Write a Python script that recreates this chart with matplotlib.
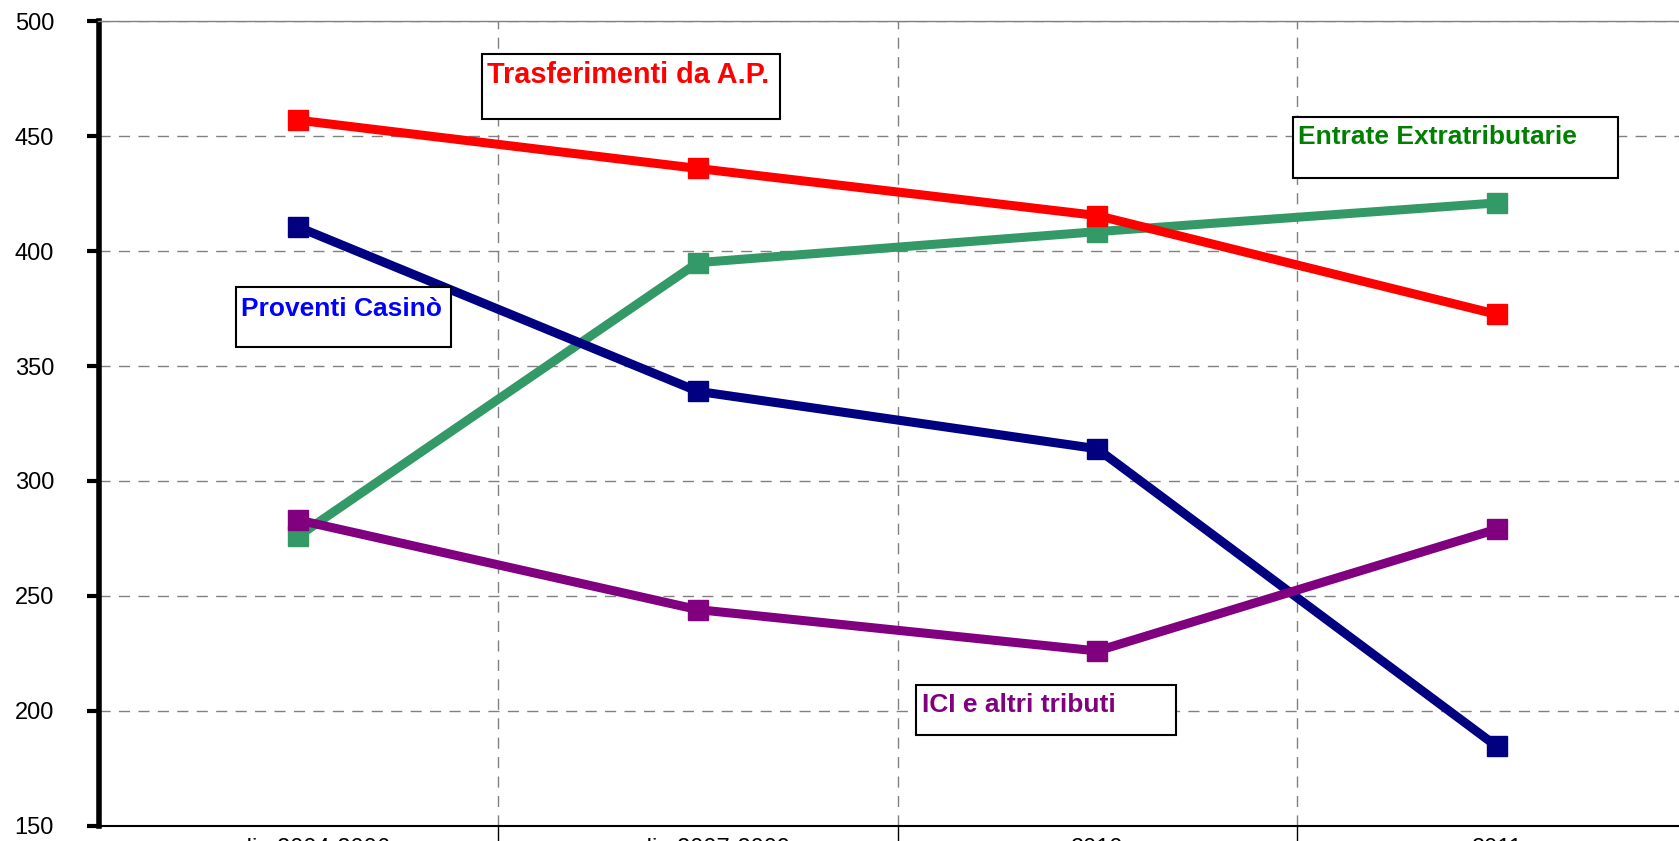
import matplotlib
matplotlib.use("Agg")
import matplotlib.pyplot as plt
from matplotlib.patches import Rectangle

plt.rcParams['font.family'] = ['Liberation Sans', 'DejaVu Sans']

categories = ["media 2004-2006", "media 2007-2009", "2010", "2011"]
trasferimenti = [457, 436, 415.5, 372.5]
extratributarie = [276, 395, 408.5, 421]
casino = [410.5, 339, 314, 184.5]
ici = [283, 244, 226, 279]

W, H = 1679, 841
fig = plt.figure(figsize=(W / 100, H / 100), dpi=100)
ax = fig.add_axes([98.5 / W, 15.4 / H, 1598 / W, 804.2 / H])

x = range(len(categories))
lw, ms = 6.5, 14
ax.plot(x, trasferimenti, color='#FF0000', lw=lw, marker='s', ms=ms, zorder=4)
ax.plot(x, extratributarie, color='#339966', lw=lw, marker='s', ms=ms, zorder=3)
ax.plot(x, casino, color='#000080', lw=lw, marker='s', ms=ms, zorder=3)
ax.plot(x, ici, color='#800080', lw=lw, marker='s', ms=ms, zorder=3)

ax.set_xlim(-0.5, 3.5)
ax.set_ylim(150, 500)
ax.set_yticks(range(150, 501, 50))
ax.tick_params(axis='y', labelsize=17, length=9, width=3, pad=23, direction='out')

# category boundaries carry ticks and grid, labels sit at the centres
ax.set_xticks([0.5, 1.5, 2.5])
ax.set_xticklabels([])
ax.set_xticks(list(x), minor=True)
ax.set_xticklabels(categories, minor=True)
ax.tick_params(axis='x', which='major', length=12, width=1, direction='out')
ax.tick_params(axis='x', which='minor', length=0, labelsize=17, pad=9)

ax.grid(True, which='major', color='#808080', lw=1, linestyle=(0, (8, 6)))
ax.set_axisbelow(True)

ax.spines['left'].set_linewidth(4)
ax.spines['bottom'].set_linewidth(1.5)
ax.spines['top'].set_color('#808080')
ax.spines['top'].set_linewidth(1)
ax.spines['right'].set_visible(False)


def box(x0, y0, x1, y1, tx, ty, label, color, size=19):
    fig.patches.append(Rectangle((x0 / W, 1 - y1 / H), (x1 - x0) / W, (y1 - y0) / H,
                                 transform=fig.transFigure, fill=True, facecolor='white',
                                 edgecolor='black', lw=1.5, zorder=5))
    fig.text(tx / W, 1 - ty / H, label, color=color, fontsize=size, fontweight='bold',
             va='baseline', ha='left', zorder=6)


box(482, 54, 780, 119, 487, 83, "Trasferimenti da A.P.", '#FF0000', size=20.8)
box(236, 287, 451, 347, 241, 316, "Proventi Casinò", '#0000FF')
box(1293, 117, 1618, 178, 1298, 144, "Entrate Extratributarie", '#008000')
box(916, 685, 1176, 735, 922, 712, "ICI e altri tributi", '#800080')

fig.savefig("out.png", dpi=100)
